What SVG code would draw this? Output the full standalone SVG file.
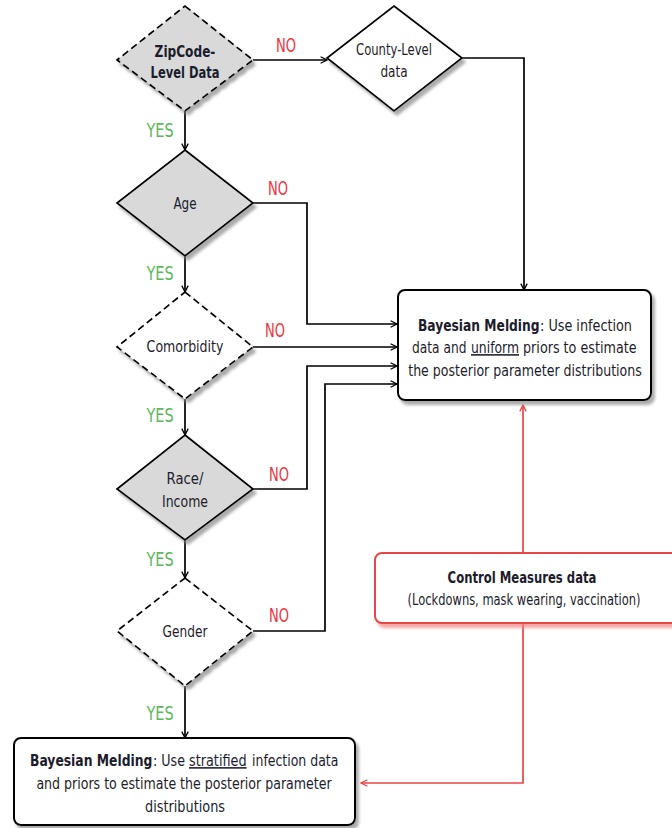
<svg xmlns="http://www.w3.org/2000/svg" width="672" height="828" viewBox="0 0 672 828">
<defs>
<filter id="sh" x="-20%" y="-20%" width="150%" height="150%">
<feDropShadow dx="3" dy="4" stdDeviation="1.5" flood-color="#888" flood-opacity="0.7"/>
</filter>
<filter id="shr" x="-20%" y="-20%" width="150%" height="150%">
<feDropShadow dx="3" dy="4" stdDeviation="1.5" flood-color="#f08080" flood-opacity="0.7"/>
</filter>
<marker id="ah" viewBox="0 0 10 10" refX="9" refY="5" markerWidth="8" markerHeight="8" markerUnits="userSpaceOnUse" orient="auto">
<path d="M1,1 L9,5 L1,9" fill="none" stroke="#000" stroke-width="1.6"/>
</marker>
<marker id="ahr" viewBox="0 0 10 10" refX="9" refY="5" markerWidth="8" markerHeight="8" markerUnits="userSpaceOnUse" orient="auto">
<path d="M1,1 L9,5 L1,9" fill="none" stroke="#e84545" stroke-width="1.6"/>
</marker>
</defs>
<style>
text{font-family:"DejaVu Sans Condensed","Liberation Sans",sans-serif;fill:#1c1c2c;font-size:15.5px;text-anchor:middle}
.s{text-anchor:start}
.b{font-weight:bold}
.u{text-decoration:underline}
.no{fill:#f0323c;font-size:19px}
.yes{fill:#5cb85c;font-size:19px}
.ln{fill:none;stroke:#000;stroke-width:1.7}
.rl{fill:none;stroke:#e84545;stroke-width:1.7}
.dg{fill:#d9d9d9;stroke:#000;stroke-width:1.7}
.dw{fill:#fff;stroke:#000;stroke-width:1.7}
.dash{stroke-dasharray:7,4}
</style>
<rect width="672" height="828" fill="#fff"/>

<g id="connectors">
<path class="ln" d="M253,60 H327" marker-end="url(#ah)"/>
<path class="ln" d="M462,58 H524 V290" marker-end="url(#ah)"/>
<path class="ln" d="M185,111 V150" marker-end="url(#ah)"/>
<path class="ln" d="M253,203 H307 V324 H397" marker-end="url(#ah)"/>
<path class="ln" d="M185,256 V292" marker-end="url(#ah)"/>
<path class="ln" d="M253,347 H397" marker-end="url(#ah)"/>
<path class="ln" d="M185,399 V435" marker-end="url(#ah)"/>
<path class="ln" d="M253,489 H307 V366 H397" marker-end="url(#ah)"/>
<path class="ln" d="M185,540 V578" marker-end="url(#ah)"/>
<path class="ln" d="M253,631 H325 V384 H397" marker-end="url(#ah)"/>
<path class="ln" d="M185,686 V738" marker-end="url(#ah)"/>
<path class="rl" d="M523,553 V405" marker-end="url(#ahr)"/>
<path class="rl" d="M523,623 V783 H361" marker-end="url(#ahr)"/>
<text class="no" transform="translate(286,52) scale(.8,1)" textLength="25" lengthAdjust="spacingAndGlyphs">NO</text>
<text class="no" transform="translate(278,195) scale(.8,1)" textLength="25" lengthAdjust="spacingAndGlyphs">NO</text>
<text class="no" transform="translate(275,337) scale(.8,1)" textLength="25" lengthAdjust="spacingAndGlyphs">NO</text>
<text class="no" transform="translate(279,481) scale(.8,1)" textLength="25" lengthAdjust="spacingAndGlyphs">NO</text>
<text class="no" transform="translate(279,622) scale(.8,1)" textLength="25" lengthAdjust="spacingAndGlyphs">NO</text>
<text class="yes" transform="translate(160,137) scale(.8,1)" textLength="34" lengthAdjust="spacingAndGlyphs">YES</text>
<text class="yes" transform="translate(160,280) scale(.8,1)" textLength="34" lengthAdjust="spacingAndGlyphs">YES</text>
<text class="yes" transform="translate(160,422) scale(.8,1)" textLength="34" lengthAdjust="spacingAndGlyphs">YES</text>
<text class="yes" transform="translate(160,566) scale(.8,1)" textLength="34" lengthAdjust="spacingAndGlyphs">YES</text>
<text class="yes" transform="translate(160,720) scale(.8,1)" textLength="34" lengthAdjust="spacingAndGlyphs">YES</text>
</g>

<g id="zipcode">
<polygon class="dg dash" filter="url(#sh)" points="185,6 253,60 185,111 117,60"/>
<text class="b" transform="translate(185,57) scale(.8,1)" textLength="76" lengthAdjust="spacingAndGlyphs">ZipCode-</text>
<text class="b" transform="translate(185,78) scale(.8,1)" textLength="86" lengthAdjust="spacingAndGlyphs">Level Data</text>
</g>

<g id="county">
<polygon class="dw" filter="url(#sh)" points="394,6 462,58 394,111 327,58"/>
<text transform="translate(394,55) scale(.8,1)" textLength="95" lengthAdjust="spacingAndGlyphs">County-Level</text>
<text transform="translate(394,77) scale(.8,1)" textLength="34" lengthAdjust="spacingAndGlyphs">data</text>
</g>

<g id="age">
<polygon class="dg" filter="url(#sh)" points="185,150 253,203 185,256 117,203"/>
<text transform="translate(185,209) scale(.8,1)" textLength="29" lengthAdjust="spacingAndGlyphs">Age</text>
</g>

<g id="comorbidity">
<polygon class="dw dash" filter="url(#sh)" points="185,292 253,347 185,399 117,347"/>
<text transform="translate(185,352) scale(.8,1)" textLength="96" lengthAdjust="spacingAndGlyphs">Comorbidity</text>
</g>

<g id="race">
<polygon class="dg" filter="url(#sh)" points="185,435 253,489 185,540 117,489"/>
<text transform="translate(185,484) scale(.8,1)" textLength="46" lengthAdjust="spacingAndGlyphs">Race/</text>
<text transform="translate(185,507) scale(.8,1)" textLength="57.5" lengthAdjust="spacingAndGlyphs">Income</text>
</g>

<g id="gender">
<polygon class="dw dash" filter="url(#sh)" points="185,578 253,631 185,686 117,631"/>
<text transform="translate(185,637) scale(.8,1)" textLength="56" lengthAdjust="spacingAndGlyphs">Gender</text>
</g>

<g id="bm-uniform">
<rect x="398" y="290" width="253" height="110" rx="7" fill="#fff" stroke="#000" stroke-width="2" filter="url(#sh)"/>
<text class="s b" transform="translate(418,331) scale(.8,1)" textLength="152" lengthAdjust="spacingAndGlyphs">Bayesian Melding</text>
<text class="s" transform="translate(540,331) scale(.8,1)" textLength="115" lengthAdjust="spacingAndGlyphs">: Use infection</text>
<text class="s" transform="translate(412,353) scale(.8,1)" textLength="68" lengthAdjust="spacingAndGlyphs">data and</text>
<text class="s u" transform="translate(471,353) scale(.8,1)" textLength="60" lengthAdjust="spacingAndGlyphs">uniform</text>
<text class="s" transform="translate(523,353) scale(.8,1)" textLength="142" lengthAdjust="spacingAndGlyphs">priors to estimate</text>
<text transform="translate(525,376) scale(.8,1)" textLength="292" lengthAdjust="spacingAndGlyphs">the posterior parameter distributions</text>
</g>

<g id="control">
<rect x="375" y="553" width="305" height="70" rx="7" fill="#fff" stroke="#e84545" stroke-width="2" filter="url(#shr)"/>
<text class="b" transform="translate(522,583) scale(.8,1)" textLength="186" lengthAdjust="spacingAndGlyphs">Control Measures data</text>
<text transform="translate(524,605) scale(.8,1)" textLength="291" lengthAdjust="spacingAndGlyphs">(Lockdowns, mask wearing, vaccination)</text>
</g>

<g id="bm-stratified">
<rect x="14" y="738" width="341" height="87" rx="7" fill="#fff" stroke="#000" stroke-width="2" filter="url(#sh)"/>
<text class="s b" transform="translate(30,766) scale(.8,1)" textLength="153" lengthAdjust="spacingAndGlyphs">Bayesian Melding</text>
<text class="s" transform="translate(153,766) scale(.8,1)" textLength="40" lengthAdjust="spacingAndGlyphs">: Use</text>
<text class="s u" transform="translate(189,766) scale(.8,1)" textLength="72" lengthAdjust="spacingAndGlyphs">stratified</text>
<text class="s" transform="translate(252,766) scale(.8,1)" textLength="108" lengthAdjust="spacingAndGlyphs">infection data</text>
<text transform="translate(184,789) scale(.8,1)" textLength="369" lengthAdjust="spacingAndGlyphs">and priors to estimate the posterior parameter</text>
<text transform="translate(185,812) scale(.8,1)" textLength="100" lengthAdjust="spacingAndGlyphs">distributions</text>
</g>
</svg>
